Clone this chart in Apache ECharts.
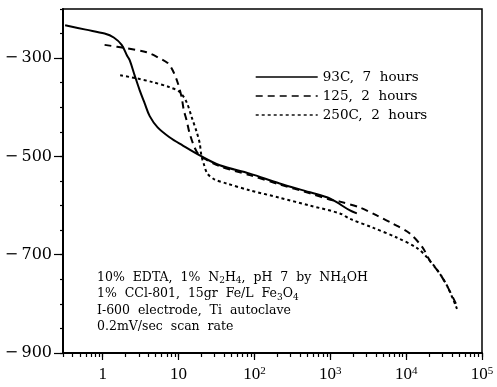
<!DOCTYPE html>
<html><head><meta charset="utf-8">
<script src="https://cdn.jsdelivr.net/npm/echarts@6/dist/echarts.min.js"></script>
<style>html,body{margin:0;padding:0;background:#fff}#c{width:497px;height:387px}</style>
</head><body><div id="c"></div>
<script>
// Series 1: 93C, 7 hours (solid)
const s93X = [0.32, 0.6, 1.06, 1.4, 1.78, 2.1, 2.27, 2.64, 3.07, 3.58, 4.17, 5.3, 7.6, 11.4, 19, 35, 87, 215, 540, 1000, 1820, 2240];
const s93Y = [-233, -242, -250, -258, -273, -295, -304, -335, -365, -392, -418, -441, -461, -478, -498, -518, -535, -555, -573, -586, -610, -616];
// Series 2: 125, 2 hours (dashed)
const s125X = [1.06, 2.07, 3.8, 5.3, 7.2, 8.4, 9.8, 11, 11.7, 12.8, 14, 16.3, 19, 35, 87, 215, 540, 1000, 1340, 2450, 4100, 6700, 11200, 16600, 20500, 27900, 35600, 46800];
const s125Y = [-273, -280, -288, -298, -310, -325, -351, -380, -405, -427, -453, -482, -498, -520, -538, -557, -575, -588, -592, -604, -620, -637, -657, -686, -712, -739, -767, -804];
// Series 3: 250C, 2 hours (dotted)
const s250X = [1.7, 2.8, 4.6, 7.6, 10.4, 12.8, 14.9, 17.4, 19, 20, 21.5, 24, 30, 43, 87, 215, 540, 1340, 1820, 3650, 7500, 13800, 19000, 27900, 35600, 46800];
const s250Y = [-335, -341, -349, -359, -369, -390, -420, -451, -473, -498, -515, -535, -547, -555, -569, -584, -600, -616, -627, -645, -665, -686, -706, -739, -767, -810];

const seriesNames = ['93C,  7  hours', '125,  2  hours', '250C,  2  hours'];
const xLabelValues = [1, 10, 100, 1000, 10000, 100000];
const yLabelValues = [-900, -700, -500, -300];
const noteLines = [
  '10%  EDTA,  1%  N{sub|2}H{sub|4},  pH  7  by  NH{sub|4}OH',
  '1%  CCl-801,  15gr  Fe/L  Fe{sub|3}O{sub|4}',
  'I-600  electrode,  Ti  autoclave',
  '0.2mV/sec  scan  rate'
];

const zip = (xs, ys) => xs.map((x, i) => [x, ys[i]]);

// tick positions
const xMinorTicks = [];
for (let d = -1; d <= 4; d++) {
  for (let m = 1; m <= 9; m++) {
    const v = +(m * Math.pow(10, d)).toPrecision(6);
    if (v >= 0.3 && v <= 100000) xMinorTicks.push(v);
  }
}
xMinorTicks.push(100000);
const yMinorTicks = [];
for (let v = -900; v <= -200; v += 50) yMinorTicks.push(v);

const serif = 'Liberation Serif';
const dserif = 'DejaVu Serif';
const chart = echarts.init(document.getElementById('c'), null, {renderer: 'canvas'});

const xCommon = {
  type: 'log', logBase: 10, min: 0.3, max: 100000, gridIndex: 0, position: 'bottom',
  splitLine: {show: false}, minorSplitLine: {show: false}
};
const yCommon = {
  type: 'value', min: -900, max: -200, gridIndex: 0, position: 'left',
  splitLine: {show: false}
};

chart.setOption({
  animation: false,
  backgroundColor: '#fff',
  grid: {left: 63, right: 15, top: 9, bottom: 34, show: true, borderColor: '#000', borderWidth: 1.5, backgroundColor: 'transparent'},
  legend: {
    orient: 'vertical', left: 250, top: 65, itemWidth: 62, itemHeight: 14, itemGap: 5,
    data: seriesNames,
    itemStyle: {opacity: 0},
    lineStyle: {width: 1.4},
    textStyle: {fontFamily: dserif, fontSize: 13.5, color: '#000'}
  },
  xAxis: [
    Object.assign({}, xCommon, {
      axisLine: {show: true, lineStyle: {color: '#000', width: 2}},
      axisTick: {show: true, inside: false, length: 4, customValues: xMinorTicks, lineStyle: {color: '#000', width: 1.2}},
      axisLabel: {
        show: true, margin: 13, customValues: xLabelValues, color: '#000',
        fontFamily: serif, fontSize: 17,
        formatter: v => {
          const e = Math.round(Math.log10(v));
          if (e === 0) return '1';
          if (e === 1) return '10';
          return '{b|10}{s|' + e + '}';
        },
        rich: {
          b: {fontFamily: serif, fontSize: 17, color: '#000'},
          s: {fontFamily: serif, fontSize: 11, color: '#000', verticalAlign: 'top', lineHeight: 11}
        }
      }
    }),
    Object.assign({}, xCommon, {
      axisLine: {show: false},
      axisTick: {show: true, inside: false, length: 7, customValues: xLabelValues, lineStyle: {color: '#000', width: 1.2}},
      axisLabel: {show: false}
    })
  ],
  yAxis: [
    Object.assign({}, yCommon, {
      axisLine: {show: true, lineStyle: {color: '#000', width: 2}},
      axisTick: {show: true, inside: false, length: 3, customValues: yMinorTicks, lineStyle: {color: '#000', width: 1.2}},
      axisLabel: {
        show: true, margin: 11, customValues: yLabelValues, color: '#000',
        fontFamily: dserif, fontSize: 16,
        formatter: v => '\u2212\u2009' + Math.abs(v)
      }
    }),
    Object.assign({}, yCommon, {
      axisLine: {show: false},
      axisTick: {show: true, inside: false, length: 9, customValues: yLabelValues, lineStyle: {color: '#000', width: 1.2}},
      axisLabel: {show: false}
    })
  ],
  series: [
    {name: seriesNames[0], type: 'line', data: zip(s93X, s93Y), showSymbol: false, symbol: 'none', smooth: 0.35,
     lineStyle: {color: '#000', width: 2, type: 'solid'}, itemStyle: {color: '#000'}},
    {name: seriesNames[1], type: 'line', data: zip(s125X, s125Y), showSymbol: false, symbol: 'none', smooth: 0.3,
     lineStyle: {color: '#000', width: 2, type: [7, 5]}, itemStyle: {color: '#000'}},
    {name: seriesNames[2], type: 'line', data: zip(s250X, s250Y), showSymbol: false, symbol: 'none', smooth: 0.3,
     lineStyle: {color: '#000', width: 2, type: [3, 3]}, itemStyle: {color: '#000'}}
  ],
  graphic: [{
    type: 'text', left: 97, top: 269,
    style: {
      text: noteLines.join('\n'),
      fontFamily: dserif, fontSize: 12.5, lineHeight: 16.5, fill: '#000',
      rich: {sub: {fontFamily: dserif, fontSize: 9, verticalAlign: 'bottom', lineHeight: 12, fill: '#000'}}
    }
  }]
});
</script>
</body></html>
